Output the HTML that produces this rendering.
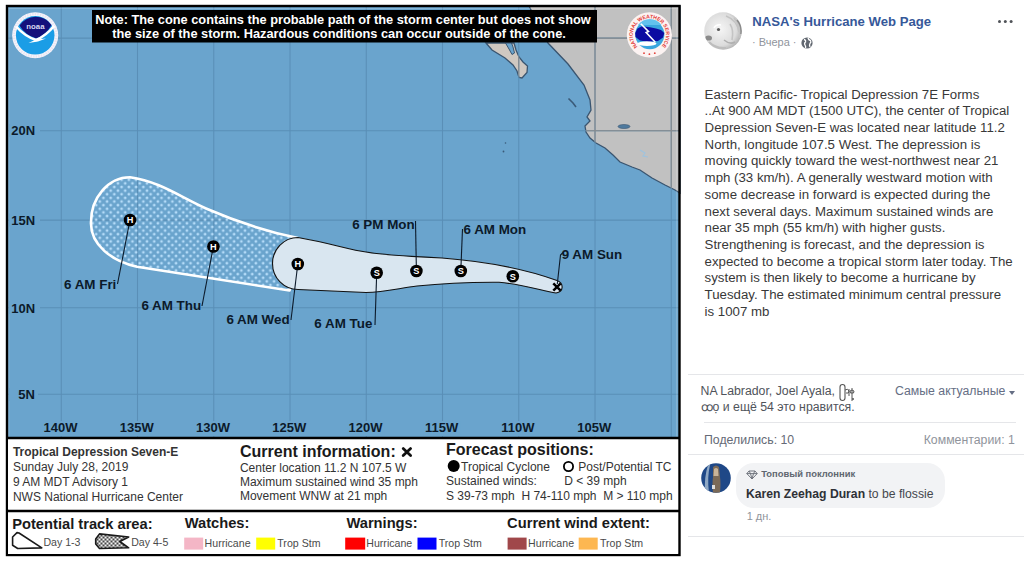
<!DOCTYPE html>
<html><head><meta charset="utf-8">
<style>
html,body{margin:0;padding:0;}
body{width:1024px;height:562px;overflow:hidden;background:#fff;position:relative;font-family:"Liberation Sans",sans-serif;}
#map{position:absolute;left:0;top:0;}
.fb{position:absolute;white-space:nowrap;}
</style></head><body>
<svg id="map" width="690" height="562" viewBox="0 0 690 562" font-family="Liberation Sans, sans-serif">
  <defs>
    <pattern id="dots" patternUnits="userSpaceOnUse" width="7.26" height="7.26" x="0" y="0">
      <circle cx="1.8" cy="1.8" r="1.4" fill="#b4dbf8"/>
      <circle cx="5.43" cy="5.43" r="1.4" fill="#b4dbf8"/>
    </pattern>
    <clipPath id="landclip"><path d="M529,6 L548,43 L568,64 L584,85 L590,100 L591,110 L587,117 L590,121 L585,126 L586,132 L590,138 L596,143 L605,148 L613,155 L620,162 L632,167 L640,170 L652,178 L665,185 L675,190 L680,193 L680,6 Z M486,43 L492,50 L505,58 L513,65 L517,71 L519,77.5 L522,78 L527,72.5 L527.5,66 L523,62 L519,57 L516,50 L514,43 Z"/></clipPath>
    <pattern id="ldots" patternUnits="userSpaceOnUse" width="4" height="4" x="0.5" y="0.5">
      <rect width="4" height="4" fill="#3a3a3a"/><circle cx="1" cy="1" r="1.15" fill="#fff"/><circle cx="3" cy="3" r="1.15" fill="#fff"/>
    </pattern>
  </defs>
  <!-- ocean -->
  <rect x="7" y="6" width="673" height="432" fill="#6aa4cd"/>
  <!-- land -->
  <path d="M529,6 L548,43 L568,64 L584,85 L590,100 L591,110 L587,117 L590,121 L585,126 L586,132 L590,138 L596,143 L605,148 L613,155 L620,162 L632,167 L640,170 L652,178 L665,185 L675,190 L680,193 L680,6 Z" fill="#c1c1c1" stroke="#3a5570" stroke-width="1.3"/>
  <path d="M486,43 L492,50 L505,58 L513,65 L517,71 L519,77.5 L522,78 L527,72.5 L527.5,66 L523,62 L519,57 L516,50 L514,43 Z" fill="#cfc8c1" stroke="#3a5570" stroke-width="1.3"/>
  <path d="M505.5,43 L509,49 L512,54.5 L514.5,53 L513,47 L511.5,43 Z" fill="#6aa4cd" stroke="#3a5570" stroke-width="1"/>
  <ellipse cx="624" cy="126.5" rx="6" ry="2" fill="#4f7a9e" stroke="#3a5570" stroke-width="0.6"/>
  <path d="M568.5,98.5 L573,103 L576,107" stroke="#3a5a78" stroke-width="1.6" fill="none"/>
  <circle cx="505.5" cy="143" r="0.8" fill="#3a5a78"/><circle cx="503.5" cy="151.5" r="0.9" fill="#3a5a78"/>
  <path d="M640,150 L645,153 L643,156 L648,157" stroke="#9fc3de" stroke-width="1.2" fill="none"/>
  <!-- grid -->
  <g stroke="#5a8fb7" stroke-width="1.05" fill="none">
    <path d="M61.26,6V438 M137.51,6V438 M213.76,6V438 M290.01,6V438 M366.26,6V438 M442.51,6V438 M518.76,6V438 M595.01,6V438 M671.26,6V438"/>
    <path d="M7,38.1H680 M7,130.7H680 M7,220.1H680 M7,307.8H680 M7,394.3H680"/>
  </g>
  <g stroke="#8a8a8a" stroke-width="1.1" fill="none" clip-path="url(#landclip)">
    <path d="M61.26,6V438 M137.51,6V438 M213.76,6V438 M290.01,6V438 M366.26,6V438 M442.51,6V438 M518.76,6V438 M595.01,6V438 M671.26,6V438"/>
    <path d="M7,38.1H680 M7,130.7H680 M7,220.1H680 M7,307.8H680 M7,394.3H680"/>
  </g>
  <path d="M676.8,7.5V437 M8.8,7.5V437 M8,8.5H678" stroke="rgba(255,255,255,0.2)" stroke-width="1.2" fill="none"/>
  <!-- cone day 4-5 -->
  <path id="outer" d="M130,177.3 C160,181.5 181,197.5 206,208.5 C236,221.5 266,231.5 298,238 L289.6,290.5 L137,266.8 C112,261 90,245 91,222 C91,198 108,177.3 130,177.3 Z" fill="url(#dots)" stroke="#fff" stroke-width="2.6" stroke-linejoin="round"/>
  <!-- cone day 1-3 -->
  <path d="M298,237.5 C330,243 350,250 366,252 C380,254.5 400,256 442,258 C480,261 520,267 557,280.5 C564,283 564,292 556,293 C540,290 520,284 499,282.2 C470,282 440,283.5 417,286 C400,288 385,292 366,292.5 L298,289.5 C284,289.5 272.5,278 272.5,263.5 C272.5,249 284,237.5 298,237.5 Z" fill="#d9e6f0" stroke="#111" stroke-width="1.1"/>
  <!-- connector lines -->
  <g stroke="#0c1a2a" stroke-width="1.1" fill="none">
    <path d="M130,220 L117.5,284"/>
    <path d="M213.4,246.5 L202,306"/>
    <path d="M297.8,264 L291,320"/>
    <path d="M376.7,272.8 L375,325"/>
    <path d="M416.4,270.8 L415.5,221"/>
    <path d="M460.8,270.8 L462.5,229"/>
    <path d="M557.3,284 L560.5,255 L563,252.5"/>
  </g>
  <!-- symbols -->
  <g font-weight="bold" font-size="9.2" fill="#fff" text-anchor="middle">
    <circle cx="130" cy="220" r="6.3" fill="#000"/><text x="130" y="223.4">H</text>
    <circle cx="213.4" cy="246.5" r="6.3" fill="#000"/><text x="213.4" y="249.9">H</text>
    <circle cx="297.8" cy="264" r="6.3" fill="#000"/><text x="297.8" y="267.4">H</text>
    <circle cx="376.7" cy="272.8" r="6.3" fill="#000"/><text x="376.7" y="276.2">S</text>
    <circle cx="416.4" cy="271" r="6.3" fill="#000"/><text x="416.4" y="274.4">S</text>
    <circle cx="460.8" cy="271" r="6.3" fill="#000"/><text x="460.8" y="274.4">S</text>
    <circle cx="512.8" cy="276.3" r="6.3" fill="#000"/><text x="512.8" y="279.7">S</text>
  </g>
  
  <path d="M553.3,283.3 L560.7,290.7 M560.7,283.3 L553.3,290.7" stroke="#000" stroke-width="2.5"/>
  <!-- track labels -->
  <g font-weight="bold" font-size="13.4" fill="#0c1a2a">
    <text x="64" y="288.7">6 AM Fri</text>
    <text x="141.4" y="310.4">6 AM Thu</text>
    <text x="226.4" y="324.2">6 AM Wed</text>
    <text x="314.3" y="328.1">6 AM Tue</text>
    <text x="352.2" y="229.4">6 PM Mon</text>
    <text x="463.5" y="233.7">6 AM Mon</text>
    <text x="561.7" y="259.1">9 AM Sun</text>
  </g>
  <!-- lat labels -->
  <g font-weight="bold" font-size="13" fill="#0c1a2a">
    <rect x="9" y="124" width="31" height="13" fill="#6aa4cd"/>
    <rect x="9" y="213.5" width="31" height="13" fill="#6aa4cd"/>
    <rect x="9" y="301" width="31" height="13" fill="#6aa4cd"/>
    <rect x="9" y="388" width="29" height="13" fill="#6aa4cd"/>
    <text x="11.3" y="135.4">20N</text>
    <text x="11.3" y="224.8">15N</text>
    <text x="11.3" y="312.6">10N</text>
    <text x="18.3" y="398.8">5N</text>
  </g>
  <g fill="#6aa4cd"><rect x="42" y="421" width="37" height="15"/><rect x="118" y="421" width="37" height="15"/><rect x="194.5" y="421" width="37" height="15"/><rect x="271" y="421" width="37" height="15"/><rect x="347.3" y="421" width="37" height="15"/><rect x="423.7" y="421" width="37" height="15"/><rect x="500" y="421" width="37" height="15"/><rect x="576.5" y="421" width="37" height="15"/></g>
  <g font-weight="bold" font-size="13" fill="#0c1a2a" text-anchor="middle">
    <text x="60.46" y="432">140W</text>
    <text x="136.71" y="432">135W</text>
    <text x="212.96" y="432">130W</text>
    <text x="289.21" y="432">125W</text>
    <text x="365.46" y="432">120W</text>
    <text x="441.71" y="432">115W</text>
    <text x="517.96" y="432">110W</text>
    <text x="594.21" y="432">105W</text>
  </g>
  <!-- note box -->
  <rect x="92" y="10" width="505" height="32.5" fill="#000"/>
  <g font-weight="bold" font-size="12.8" fill="#fff" text-anchor="middle">
    <text x="343" y="24">Note: The cone contains the probable path of the storm center but does not show</text>
    <text x="339" y="38">the size of the storm. Hazardous conditions can occur outside of the cone.</text>
  </g>
  <!-- logos -->
  <g id="noaa">
    <circle cx="35.2" cy="35.3" r="23" fill="#f5f5fb"/>
    <circle cx="35.2" cy="35.3" r="21.2" fill="none" stroke="#e8e4f2" stroke-width="2.4" stroke-dasharray="1.4 1.2"/>
    <circle cx="35.2" cy="35.3" r="19.3" fill="#1b9de6"/>
    <path d="M19.5,25.5 A19.3,19.3 0 0 1 51.5,25 Q46,35 36.4,38.6 Q25,35 19.5,25.5 Z" fill="#14117c"/>
    <path d="M16.2,26.5 Q25,36.5 36,40 Q46,36 54.2,25.8" fill="none" stroke="#fff" stroke-width="2.5"/>
    <path d="M28.5,43 L36,39.5 L46,38.6 L38,41.6 Z" fill="#fff"/>
    <text x="35.4" y="29.3" font-size="7.8" font-weight="bold" fill="#d9d7f2" text-anchor="middle">noaa</text>
  </g>
  <g id="nws">
    <circle cx="649.4" cy="34.9" r="22.6" fill="#fcf3f2"/>
    <path id="nwsarc" d="M637.66,46.64 A16.6,16.6 0 1 1 661.14,46.64" fill="none"/>
    <text font-size="5.2" font-weight="bold" fill="#e2403a"><textPath href="#nwsarc" textLength="77" lengthAdjust="spacing">NATIONAL WEATHER SERVICE</textPath></text>
    <circle cx="644" cy="53.2" r="0.9" fill="#e2403a"/><circle cx="649.4" cy="54.2" r="0.9" fill="#e2403a"/><circle cx="654.8" cy="53.2" r="0.9" fill="#e2403a"/>
    <circle cx="649.8" cy="34.6" r="14.6" fill="#3aa6de"/>
    <path d="M638,25 A14.6,14.6 0 0 1 661.6,25 Z" fill="#62c2ee"/>
    <path d="M635.2,33 L637.5,28.5 L642,26.3 L650,27.2 L656,28.5 L661,30 L664.3,33 L663,37.5 L658,41 L648,42 L640,40.5 L635.5,37 Z" fill="#0b0ba2"/>
    <path d="M640.8,23.7 L648.5,31.5 L646.2,32.6 L655.3,42.2" fill="none" stroke="#fff" stroke-width="1.6"/>
    <ellipse cx="647" cy="43.6" rx="9.5" ry="2.4" fill="#fff"/>
  </g>
  <!-- borders -->
  <rect x="7" y="6" width="672.5" height="549" fill="none" stroke="#000" stroke-width="2.4"/>
  <!-- legend -->
  <rect x="8" y="438.5" width="670" height="71" fill="#fff"/>
  <rect x="8" y="512" width="670" height="42" fill="#fff"/>
  <path d="M7,438H680 M7,511H680" stroke="#000" stroke-width="2.4"/>
  <g fill="#333" font-size="12">
    <text x="12.9" y="456.0" font-weight="bold">Tropical Depression Seven-E</text>
    <text x="12.9" y="471.3">Sunday July 28, 2019</text>
    <text x="12.9" y="486.0">9 AM MDT Advisory 1</text>
    <text x="12.9" y="501.2">NWS National Hurricane Center</text>
    <text x="239.9" y="472.0">Center location 11.2 N 107.5 W</text>
    <text x="239.9" y="485.5">Maximum sustained wind 35 mph</text>
    <text x="239.9" y="500.1">Movement WNW at 21 mph</text>
    <text x="461" y="470.8">Tropical Cyclone</text>
    <text x="578.3" y="470.8">Post/Potential TC</text>
    <text x="446" y="484.8">Sustained winds:</text>
    <text x="564.2" y="484.8">D &lt; 39 mph</text>
    <text x="446" y="500.1" xml:space="preserve">S 39-73 mph  H 74-110 mph  M &gt; 110 mph</text>
  </g>
  <g fill="#1a1a1a" font-weight="bold" font-size="16.05">
    <text x="239.9" y="456.6">Current information:</text>
    <text x="445.9" y="455.2">Forecast positions:</text>
  </g>
  <path d="M403.2,448.6 L410.6,455.6 M410.6,448.6 L403.2,455.6" stroke="#111" stroke-width="2.8" stroke-linecap="round"/>
  <circle cx="453.7" cy="466" r="6" fill="#000"/>
  <circle cx="568.5" cy="466.5" r="4.6" fill="none" stroke="#000" stroke-width="1.8"/>
  <g fill="#1a1a1a" font-weight="bold" font-size="14.7">
    <text x="12.2" y="529">Potential track area:</text>
    <text x="184.7" y="528.3">Watches:</text>
    <text x="346.4" y="528.3">Warnings:</text>
    <text x="507.1" y="528.3">Current wind extent:</text>
  </g>
  <g fill="#4a4a4a" font-size="10.6">
    <text x="43.4" y="546.3">Day 1-3</text>
    <text x="131.2" y="546.3">Day 4-5</text>
    <text x="204.6" y="547">Hurricane</text>
    <text x="277.3" y="547">Trop Stm</text>
    <text x="366.3" y="547">Hurricane</text>
    <text x="438.7" y="547">Trop Stm</text>
    <text x="528.1" y="547">Hurricane</text>
    <text x="600" y="547">Trop Stm</text>
  </g>
  <rect x="184.2" y="537.6" width="19" height="12" fill="#f4b6c6"/>
  <rect x="256.2" y="537.6" width="19" height="12" fill="#ffff00"/>
  <rect x="345.2" y="537.6" width="20" height="12" fill="#ff0000"/>
  <rect x="417.5" y="537.6" width="19" height="12" fill="#0000ff"/>
  <rect x="507.6" y="537.6" width="19" height="12" fill="#a0474a"/>
  <rect x="578.7" y="537.6" width="19" height="12" fill="#fdb751"/>
  <path d="M12.6,537 L17,532.6 L19,533 L41.8,547.9 L17.7,548.5 L12.6,545.3 Z" fill="#fff" stroke="#1a1a1a" stroke-width="1.6" stroke-linejoin="round"/>
  <path d="M95.7,539 L99.5,533.9 L128.7,537 L119.8,541.5 L128.7,547.8 L99.5,548.5 L95.7,544 Z" fill="url(#ldots)" stroke="#1a1a1a" stroke-width="1.6" stroke-linejoin="round"/>
</svg>

<!-- FB panel -->
<svg class="fb" style="left:704.2px;top:11.8px;" width="38" height="38" viewBox="0 0 38 38">
  <defs><clipPath id="av"><circle cx="19" cy="19" r="18.8"/></clipPath>
  <radialGradient id="avg" cx="0.42" cy="0.45" r="0.62"><stop offset="0" stop-color="#f6f6f6"/><stop offset="0.7" stop-color="#dcdcdc"/><stop offset="1" stop-color="#a9a9a9"/></radialGradient></defs>
  <g clip-path="url(#av)">
    <rect width="38" height="38" fill="url(#avg)"/>
    <path d="M22,4 Q33,8 35,20 M26,12 Q30,18 28,28 M30,6 Q37,14 36,26" fill="none" stroke="#c4c4c4" stroke-width="1.6"/>
    <path d="M5,30 Q12,37 22,36" fill="none" stroke="#bdbdbd" stroke-width="2"/>
    <path d="M33,8 Q38,14 37,22" fill="none" stroke="#8a8a8a" stroke-width="1.6"/>
    <ellipse cx="4.5" cy="26" rx="3.5" ry="2.6" fill="#8a8a8a"/>
    <circle cx="14.5" cy="17.5" r="1.6" fill="#5a5a5a"/>
    <path d="M10,16 Q12,12 17,13" fill="none" stroke="#fff" stroke-width="1.4"/>
    <path d="M20,28 Q26,33 31,30" fill="none" stroke="#b0b0b0" stroke-width="1.5"/>
  </g>
</svg>
<div class="fb" style="left:752.2px;top:14px;font-size:13.15px;font-weight:bold;color:#365899;">NASA's Hurricane Web Page</div>
<div class="fb" style="left:752px;top:36px;font-size:11px;color:#90949c;">· Вчера ·</div>
<svg class="fb" style="left:800.5px;top:37px;" width="12" height="12" viewBox="0 0 12 12"><circle cx="6" cy="6" r="5.6" fill="#616770"/><path d="M3,2.5 Q5,3 4.5,5 Q3,6 4,8 Q5,9.5 4.5,11 M7,1 Q7.5,3 9.5,3.5 Q10.5,5 9,6.5 Q8,8 9,10" fill="none" stroke="#fff" stroke-width="1.3"/></svg>
<div class="fb" style="left:997.8px;top:19.8px;width:3.6px;height:3.6px;border-radius:50%;background:#505358;box-shadow:5.8px 0 0 #505358,11.6px 0 0 #505358;"></div>

<div class="fb" style="left:704.6px;top:86.5px;font-size:13.25px;line-height:16.72px;color:#383838;">Eastern Pacific- Tropical Depression 7E Forms<br>..At 900 AM MDT (1500 UTC), the center of Tropical<br>Depression Seven-E was located near latitude 11.2<br>North, longitude 107.5 West. The depression is<br>moving quickly toward the west-northwest near 21<br>mph (33 km/h). A generally westward motion with<br>some decrease in forward is expected during the<br>next several days. Maximum sustained winds are<br>near 35 mph (55 km/h) with higher gusts.<br>Strengthening is forecast, and the depression is<br>expected to become a tropical storm later today. The<br>system is then likely to become a hurricane by<br>Tuesday. The estimated minimum central pressure<br>is 1007 mb</div>

<div class="fb" style="left:688px;top:374px;width:336px;height:1px;background:#e5e6e9;"></div>
<div class="fb" style="left:700.5px;top:383px;font-size:12.3px;color:#50545b;line-height:16px;">NA Labrador, Joel Ayala, <br>ꝏọ и ещё 54 это нравится.</div>
<svg class="fb" style="left:838px;top:383px;" width="22" height="20" viewBox="0 0 22 20"><rect x="2" y="1.5" width="5" height="16" rx="2.5" fill="none" stroke="#555" stroke-width="1.1"/><path d="M7,7 Q10,5 11,8 Q11,11 8,10 M11,6 L11,13 M14,5 L14,18 M12,8 Q14,6 16,8 Q16,11 14,10 Q12,11 12,8" fill="none" stroke="#555" stroke-width="1"/><circle cx="15" cy="16" r="1" fill="#555"/></svg>
<div class="fb" style="left:894.9px;top:384px;font-size:12.3px;color:#656e84;">Самые актуальные</div>
<div class="fb" style="left:1009px;top:391px;width:0;height:0;border-left:3.5px solid transparent;border-right:3.5px solid transparent;border-top:4px solid #656e84;"></div>
<div class="fb" style="left:704px;top:422px;width:312px;height:1px;background:#e5e6e9;"></div>
<div class="fb" style="left:704px;top:433px;font-size:12.3px;color:#656a76;">Поделились: 10</div>
<div class="fb" style="left:923.7px;top:433px;font-size:12.3px;color:#90949c;">Комментарии: 1</div>
<div class="fb" style="left:688px;top:454px;width:336px;height:1px;background:#e5e6e9;"></div>

<svg class="fb" style="left:700.5px;top:463.2px;" width="30" height="30" viewBox="0 0 30 30"><defs><clipPath id="av2"><circle cx="15" cy="15" r="14.8"/></clipPath></defs><g clip-path="url(#av2)"><rect width="30" height="30" fill="#1f4887"/><path d="M9,2 Q6,14 8,30 L4,30 Q3,14 7,2 Z" fill="#8fa8c4"/><path d="M12,4 Q15,1 18,4 L19,14 Q20,20 19,30 L12,30 Q11,20 12,14 Z" fill="#7b6a58"/><path d="M13,6 Q15,4 17,6 L17.5,13 L12.5,13 Z" fill="#c8b49a"/><rect x="11" y="22" width="3" height="4" fill="#ddd"/></g></svg>
<div class="fb" style="left:736px;top:463.4px;width:208.5px;height:44.3px;border-radius:18px;background:#f2f3f5;"></div>
<svg class="fb" style="left:745.5px;top:470px;" width="12" height="10" viewBox="0 0 12 10"><path d="M3,1 L9,1 L11.2,3.6 L6,9 L0.8,3.6 Z M0.8,3.6 L11.2,3.6 M3,1 L4.5,3.6 L6,9 L7.5,3.6 L9,1" fill="none" stroke="#6a6f78" stroke-width="0.95" stroke-linejoin="round"/></svg>
<div class="fb" style="left:761.2px;top:468px;font-size:9.4px;font-weight:bold;color:#606770;">Топовый поклонник</div>
<div class="fb" style="left:745.9px;top:487px;font-size:12.2px;color:#44474d;"><b style="color:#2e3136">Karen Zeehag Duran</b> to be flossie</div>
<div class="fb" style="left:746.7px;top:509.5px;font-size:11px;color:#90949c;">1 дн.</div>
<div class="fb" style="left:688px;top:536px;width:336px;height:1px;background:#e5e6e9;"></div>
</body></html>
